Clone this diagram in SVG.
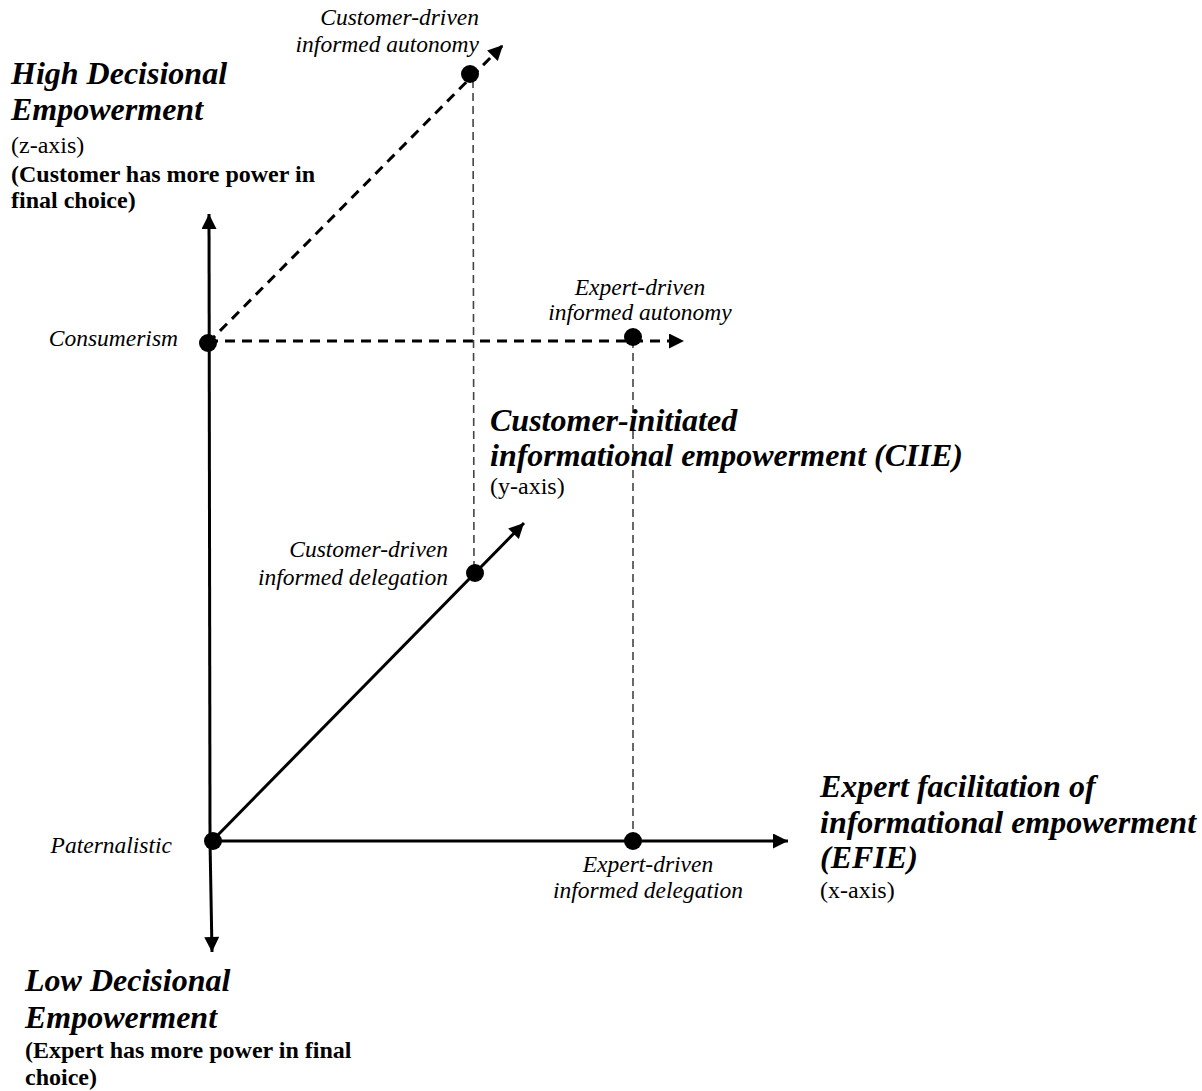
<svg xmlns="http://www.w3.org/2000/svg" width="1202" height="1091" viewBox="0 0 1202 1091">
<defs>
<style>
.bi{font-family:"Liberation Serif","Times New Roman",serif;font-weight:bold;font-style:italic;font-size:32px;fill:#000}
.r{font-family:"Liberation Serif","Times New Roman",serif;font-size:24px;fill:#000}
.b{font-family:"Liberation Serif","Times New Roman",serif;font-weight:bold;font-size:24px;fill:#000}
.it{font-family:"Liberation Serif","Times New Roman",serif;font-style:italic;font-size:23.5px;fill:#000}
.solid{stroke:#000;stroke-width:3;fill:none}
.dash{stroke:#000;stroke-width:3;fill:none;stroke-dasharray:10 7}
.thin{stroke:#444;stroke-width:1.6;fill:none;stroke-dasharray:8 5}
.dot{fill:#000}
</style>
<marker id="ah" viewBox="0 0 10 10" refX="10" refY="5" markerWidth="5.5" markerHeight="5" markerUnits="strokeWidth" orient="auto">
<path d="M0,0 L10,5 L0,10 Z" fill="#000"/>
</marker>
</defs>
<g id="connectors">
<line class="solid" x1="210" y1="841" x2="209" y2="214" marker-end="url(#ah)"/>
<line class="solid" x1="210" y1="841" x2="212" y2="952" marker-end="url(#ah)"/>
<line class="solid" x1="212" y1="841" x2="788" y2="841" marker-end="url(#ah)"/>
<line class="solid" x1="212" y1="841" x2="524" y2="523" marker-end="url(#ah)"/>
<line class="dash" x1="208" y1="343" x2="503" y2="45" marker-end="url(#ah)"/>
<line class="dash" x1="208" y1="341" x2="684" y2="341" marker-end="url(#ah)"/>
<line class="thin" x1="473" y1="80" x2="474" y2="573"/>
<line class="thin" x1="633" y1="340" x2="633" y2="841"/>
</g>
<g id="node-consumerism">
<circle class="dot" cx="208" cy="343" r="9"/>
<text class="it" x="178" y="346" text-anchor="end">Consumerism</text>
</g>
<g id="node-paternalistic">
<circle class="dot" cx="213" cy="841" r="9"/>
<text class="it" x="172" y="853" text-anchor="end">Paternalistic</text>
</g>
<g id="node-customer-autonomy">
<circle class="dot" cx="470" cy="74" r="9"/>
<text class="it" x="479" y="25" text-anchor="end">Customer-driven</text>
<text class="it" x="479" y="52" text-anchor="end">informed autonomy</text>
</g>
<g id="node-expert-autonomy">
<circle class="dot" cx="633" cy="337" r="9"/>
<text class="it" x="640" y="295" text-anchor="middle">Expert-driven</text>
<text class="it" x="640" y="320" text-anchor="middle">informed autonomy</text>
</g>
<g id="node-customer-delegation">
<circle class="dot" cx="475" cy="573" r="9"/>
<text class="it" x="448" y="557" text-anchor="end">Customer-driven</text>
<text class="it" x="448" y="585" text-anchor="end">informed delegation</text>
</g>
<g id="node-expert-delegation">
<circle class="dot" cx="633" cy="841" r="9"/>
<text class="it" x="648" y="872" text-anchor="middle">Expert-driven</text>
<text class="it" x="648" y="898" text-anchor="middle">informed delegation</text>
</g>
<g id="label-z-high">
<text class="bi" x="11" y="84">High Decisional</text>
<text class="bi" x="11" y="120">Empowerment</text>
<text class="r" x="11" y="153">(z-axis)</text>
<text class="b" x="11" y="182">(Customer has more power in</text>
<text class="b" x="11" y="208">final choice)</text>
</g>
<g id="label-z-low">
<text class="bi" x="25" y="991">Low Decisional</text>
<text class="bi" x="25" y="1028">Empowerment</text>
<text class="b" x="25" y="1058">(Expert has more power in final</text>
<text class="b" x="25" y="1085">choice)</text>
</g>
<g id="label-y">
<text class="bi" x="490" y="431">Customer-initiated</text>
<text class="bi" x="490" y="466">informational empowerment (CIIE)</text>
<text class="r" x="490" y="494">(y-axis)</text>
</g>
<g id="label-x">
<text class="bi" x="820" y="797">Expert facilitation of</text>
<text class="bi" x="820" y="833">informational empowerment</text>
<text class="bi" x="820" y="868">(EFIE)</text>
<text class="r" x="820" y="898">(x-axis)</text>
</g>
</svg>
